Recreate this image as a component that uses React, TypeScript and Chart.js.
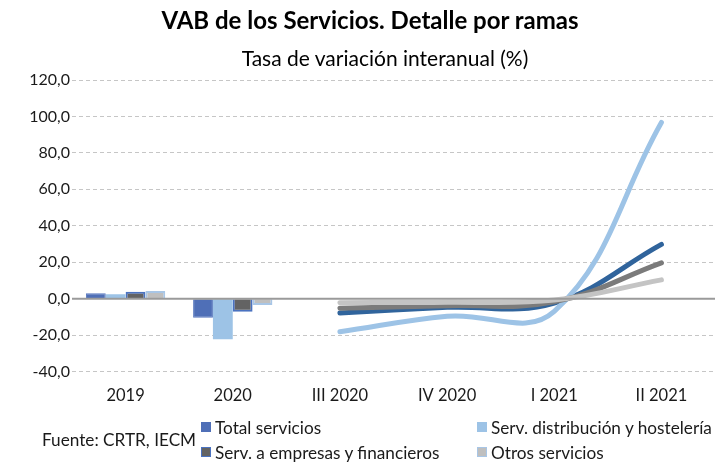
import React, { useEffect, useRef } from "react";
import { Chart, registerables } from "chart.js";

Chart.register(...registerables);

const categories = ["2019", "2020", "III 2020", "IV 2020", "I 2021", "II 2021"];
const yTicks = [-40, -20, 0, 20, 40, 60, 80, 100, 120];

// Annual bars (2019, 2020)
const totalBars = [2.9, -10.5, null, null, null, null];
const distribBars = [2.4, -22.3, null, null, null, null];
const empresasBars = [3.8, -7.2, null, null, null, null];
const otrosBars = [4.2, -3.5, null, null, null, null];

// Quarterly lines (III 2020 .. II 2021)
const totalLine = [null, null, -7.9, -4.8, -2.4, 29.8];
const distribLine = [null, null, -18.2, -9.7, -7.0, 96.7];
const empresasLine = [null, null, -5.3, -3.9, -1.8, 19.6];
const otrosLine = [null, null, -2.2, -2.0, -0.8, 10.3];

const seriesNames = [
  "Total servicios",
  "Serv. distribución y hostelería",
  "Serv. a empresas y financieros",
  "Otros servicios",
];

const FONT = "Lato, 'Open Sans', sans-serif";

const zeroLinePlugin = {
  id: "zeroLine",
  afterDatasetsDraw(chart: any) {
    const y = chart.scales.y;
    const area = chart.chartArea;
    const py = y.getPixelForValue(0);
    const ctx = chart.ctx;
    ctx.save();
    ctx.strokeStyle = "#9a9a9a";
    ctx.lineWidth = 2;
    ctx.beginPath();
    ctx.moveTo(area.left, py);
    ctx.lineTo(area.right, py);
    ctx.stroke();
    ctx.restore();
  },
};

export default function App() {
  const ref = useRef<HTMLCanvasElement>(null);

  useEffect(() => {
    if (!ref.current) return;
    const chart = new Chart(ref.current, {
      type: "bar",
      data: {
        labels: categories,
        datasets: [
          { type: "line", label: seriesNames[3], data: otrosLine, borderColor: "#c4c4c4", borderWidth: 5, pointRadius: 0, tension: 0.4, borderCapStyle: "round", order: 1 } as any,
          { type: "line", label: seriesNames[2], data: empresasLine, borderColor: "#7b7b7b", borderWidth: 5, pointRadius: 0, tension: 0.4, borderCapStyle: "round", order: 2 } as any,
          { type: "line", label: seriesNames[1], data: distribLine, borderColor: "#9dc3e6", borderWidth: 5, pointRadius: 0, tension: 0.4, borderCapStyle: "round", order: 3 } as any,
          { type: "line", label: seriesNames[0], data: totalLine, borderColor: "#30649c", borderWidth: 5, pointRadius: 0, tension: 0.4, borderCapStyle: "round", order: 4 } as any,
          { type: "bar", label: seriesNames[0], data: totalBars, backgroundColor: "#4f6fb7", borderColor: "#5878bf", borderWidth: 1, order: 5 },
          { type: "bar", label: seriesNames[1], data: distribBars, backgroundColor: "#9dc3e6", borderWidth: 0, order: 5 },
          { type: "bar", label: seriesNames[2], data: empresasBars, backgroundColor: "#636363", borderColor: "#4a72c0", borderWidth: 2, order: 5 },
          { type: "bar", label: seriesNames[3], data: otrosBars, backgroundColor: "#bfbfbf", borderColor: "#a8c6e6", borderWidth: 2, order: 5 },
        ],
      },
      options: {
        animation: false,
        responsive: false,
        maintainAspectRatio: false,
        layout: { padding: { top: 80, left: 0, right: 11, bottom: 60.5 } },
        plugins: {
          legend: { display: false },
          title: { display: false },
          tooltip: { enabled: false },
        },
        datasets: {
          bar: { categoryPercentage: 0.74, barPercentage: 1.0 },
        },
        scales: {
          x: {
            grid: { display: false, drawTicks: false },
            border: { display: false },
            ticks: { color: "#1a1a1a", font: { family: FONT, size: 16.5 }, padding: 14, maxRotation: 0 },
            afterFit: (s: any) => { s.height = 30; },
          },
          y: {
            min: -40,
            max: 120,
            afterBuildTicks: (s: any) => { s.ticks = yTicks.map((v) => ({ value: v })); },
            grid: {
              drawTicks: false,
              color: (c: any) => (c.tick && c.tick.value === 0 ? "rgba(0,0,0,0)" : "#c6c6c6"),
              lineWidth: 1,
            },
            border: { display: false, dash: [4, 3] },
            ticks: {
              color: "#1a1a1a",
              font: { family: FONT, size: 16 },
              padding: 2,
              callback: (v: any) => Number(v).toFixed(1).replace(".", ","),
            },
            afterFit: (s: any) => { s.width = 72; },
          },
        },
      },
      plugins: [zeroLinePlugin],
    });
    return () => chart.destroy();
  }, []);

  const legendItem = (x: number, y: number, fill: string, border: string, text: string) => (
    <div style={{ position: "absolute", left: x, top: y - 12, height: 24, display: "flex", alignItems: "center", whiteSpace: "nowrap" }}>
      <span style={{ display: "inline-block", width: 10, height: 10, boxSizing: "border-box", background: fill, border: `1.5px solid ${border}`, marginRight: 4 }} />
      <span style={{ fontSize: 17.2, color: "#1a1a1a", fontFamily: FONT }}>{text}</span>
    </div>
  );

  return (
    <div style={{ position: "absolute", left: 0, top: 0, width: 726, height: 462, background: "#fff", fontFamily: FONT }}>
      <canvas ref={ref} width={726} height={462} style={{ position: "absolute", left: 0, top: 0 }} />
      <div style={{ position: "absolute", left: 0, top: 6, width: 740, lineHeight: "28px", fontSize: 24, fontWeight: 700, textAlign: "center", color: "#000" }}>
        VAB de los Servicios. Detalle por ramas
      </div>
      <div style={{ position: "absolute", left: 0, top: 45, width: 770, lineHeight: "26px", fontSize: 21, textAlign: "center", color: "#000" }}>
        Tasa de variación interanual (%)
      </div>
      <div style={{ position: "absolute", left: 42, top: 428, lineHeight: "24px", fontSize: 17.2, color: "#1a1a1a", whiteSpace: "nowrap" }}>
        Fuente: CRTR, IECM
      </div>
      {legendItem(201, 427, "#4f6fb7", "#4f6fb7", seriesNames[0])}
      {legendItem(477, 427, "#9dc3e6", "#9dc3e6", seriesNames[1])}
      {legendItem(201, 452, "#636363", "#4a72c0", seriesNames[2])}
      {legendItem(477, 452, "#bfbfbf", "#a8c6e6", seriesNames[3])}
    </div>
  );
}
